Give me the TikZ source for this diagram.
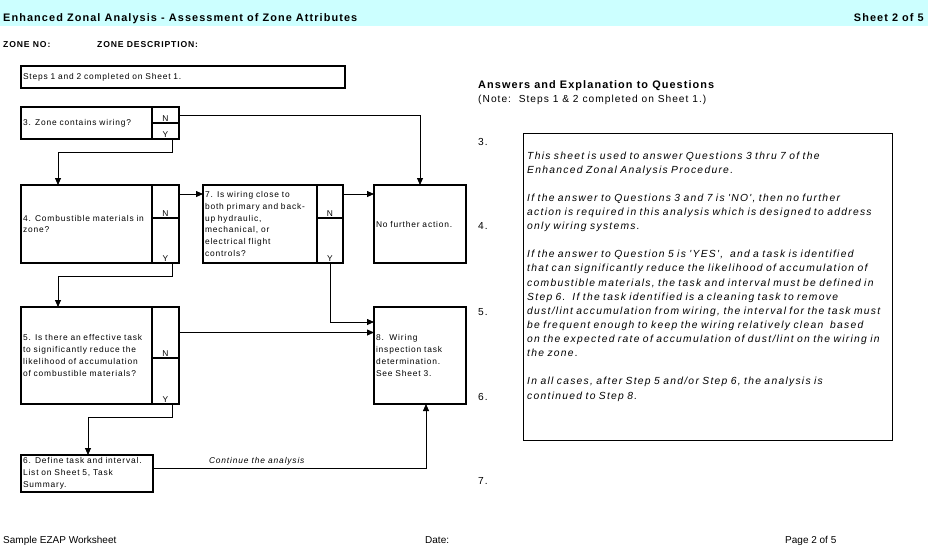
\documentclass[tikz,border=0pt]{standalone}
\usepackage{fontspec}
\setmainfont{Liberation Sans}
\newfontfamily\xlsfont[LetterSpace=10]{Liberation Sans}
\newfontfamily\explfont[LetterSpace=12.5]{Liberation Sans}
\usetikzlibrary{arrows.meta,calc}

\definecolor{bandcyan}{RGB}{204,255,255}

\tikzset{
  box/.style={draw, line width=1.6pt, outer sep=0pt, anchor=north west, inner sep=2pt, align=left,
    font=\xlsfont\fontsize{8.4}{11.8}\selectfont},
  ans/.style={draw, line width=1.6pt, outer sep=0pt, anchor=north west, inner sep=0pt, minimum width=27pt},
  yn/.style={anchor=south, inner sep=1pt, font=\xlsfont\fontsize{8.4}{10}\selectfont},
  conn/.style={->, line width=0.8pt},
  head/.style={inner sep=0pt, anchor=base west, font=\xlsfont\bfseries\fontsize{10.9}{12}\selectfont},
  qnum/.style={inner sep=0pt, anchor=base west, font=\xlsfont\fontsize{10.2}{12}\selectfont},
  foot/.style={inner sep=0pt, anchor=base west, font=\fontsize{10}{12}\selectfont},
}

\begin{document}
\begin{tikzpicture}[x=1pt, y=-1pt, >={Triangle[length=7pt,width=6pt]}]
        \useasboundingbox (0,0) rectangle (928,544);
        % ==== HEADER ====
        \fill[bandcyan] (0,0) rectangle (928,26);
        \node[head] (title) at (3,21) {Enhanced Zonal Analysis - Assessment of Zone Attributes};
        \node[head, anchor=base east] (sheet) at (924,21) {Sheet 2 of 5};
        \node[head, font=\xlsfont\bfseries\fontsize{8.6}{10}\selectfont] (zoneno) at (3,47) {ZONE NO:};
        \node[head, font=\xlsfont\bfseries\fontsize{8.6}{10}\selectfont] (zonedesc) at (97,47) {ZONE DESCRIPTION:};

        % ==== FLOW BOXES ====
        \node[box, minimum width=324pt, minimum height=22pt, text width=320pt] (steps) at (21,66)
            {Steps 1 and 2 completed on Sheet 1.};
        \node[box, minimum height=32pt, text width=127pt] (q3) at (21,107) {3. Zone contains wiring?};
        \node[ans, minimum height=16pt] (q3n) at (q3.north east) {};
        \node[ans, minimum height=16pt] (q3y) at (q3n.south west) {};

        \node[box, minimum height=78pt, text width=127pt] (q4) at (21,185)
            {4. Combustible materials in\\zone?};
        \node[ans, minimum height=33pt] (q4n) at (q4.north east) {};
        \node[ans, minimum height=45pt] (q4y) at (q4n.south west) {};

        \node[box, minimum height=78pt, text width=110pt] (q7) at (203,185)
            {7. Is wiring close to\\both primary and back-\\up hydraulic,\\mechanical, or\\electrical flight\\controls?};
        \node[ans, minimum height=33pt, minimum width=26pt] (q7n) at (q7.north east) {};
        \node[ans, minimum height=45pt, minimum width=26pt] (q7y) at (q7n.south west) {};

        \node[box, minimum height=78pt, text width=88pt] (nf) at (374,185) {No further action.};

        \node[box, minimum height=97pt, text width=127pt] (q5) at (21,307)
            {5. Is there an effective task\\to significantly reduce the\\likelihood of accumulation\\of combustible materials?};
        \node[ans, minimum height=51pt] (q5n) at (q5.north east) {};
        \node[ans, minimum height=46pt] (q5y) at (q5n.south west) {};

        \node[box, minimum height=97pt, text width=88pt] (w8) at (374,307)
            {8.\ \ Wiring\\inspection task\\determination.\\See Sheet 3.};

        \node[box, minimum height=37pt, text width=128pt] (q6) at (21,455)
            {6. Define task and interval.\\List on Sheet 5, Task\\Summary.};

        % ==== N / Y ====
        \foreach \c/\t in {q3n/N, q3y/Y, q4n/N, q4y/Y, q7n/N, q7y/Y, q5n/N, q5y/Y}
            \node[yn] (\c-lbl) at (\c.south) {\t};

        % ==== CONNECTORS ====
        \draw[conn] ($(q3y.south east)+(-7,0)$) |- ($(q4.north west)+(37,-33)$) -- ($(q4.north west)+(37,0)$);
        \draw[conn] (q3n.east) -| (nf.north);
        \draw[conn] ($(q4n.north east)+(0,9)$) -- ($(q7.north west)+(0,9)$);
        \draw[conn] ($(q7n.north east)+(0,9)$) -- ($(nf.north west)+(0,9)$);
        \draw[conn] ($(q4y.south east)+(-7,0)$) |- ($(q5.north west)+(37,-31)$) -- ($(q5.north west)+(37,0)$);
        \draw[conn] (q7y.south) |- ($(w8.north west)+(0,15)$);
        \draw[conn] (q5n.east) -- (q5n.east -| w8.west);
        \draw[conn] ($(q5y.south east)+(-7,0)$) |- ($(q6.north west)+(67,-38)$) -- ($(q6.north west)+(67,0)$);
        \draw[conn] ($(q6.north east)+(0,13)$) -| node[pos=0.19, above, inner sep=2pt,
            font=\xlsfont\itshape\fontsize{8.4}{10}\selectfont] (contlbl) {Continue the analysis}
            ($(w8.south west)+(52,0)$);

        % ==== ANSWERS ====
        \node[head] (anshead) at (478,88) {Answers and Explanation to Questions};
        \node[qnum] (ansnote) at (478,102) {(Note:\ \ Steps 1 \& 2 completed on Sheet 1.)};
        \foreach \n/\y in {3/145, 4/229, 5/315, 6/400, 7/484}
            \node[qnum] (num\n) at (478,\y) {\n.};
        \node[draw, line width=0.9pt, anchor=north west, inner sep=0pt,
            minimum width=369pt, minimum height=307pt] (expl) at (523,133) {};
        \node[qnum, text width=390pt, align=left, font=\explfont\itshape\fontsize{10.3}{14.12}\selectfont]
            (expltext) at (527,159)
            {This sheet is used to answer Questions 3 thru 7 of the\\
             Enhanced Zonal Analysis Procedure.\\[14.12pt]
             If the answer to Questions 3 and 7 is 'NO', then no further\\
             action is required in this analysis which is designed to address\\
             only wiring systems.\\[14.12pt]
             If the answer to Question 5 is 'YES',\ \ and a task is identified\\
             that can significantly reduce the likelihood of accumulation of\\
             combustible materials, the task and interval must be defined in\\
             Step 6.\ \ If the task identified is a cleaning task to remove\\
             dust/lint accumulation from wiring, the interval for the task must\\
             be frequent enough to keep the wiring relatively clean\ \ based\\
             on the expected rate of accumulation of dust/lint on the wiring in\\
             the zone.\\[14.12pt]
             In all cases, after Step 5 and/or Step 6, the analysis is\\
             continued to Step 8.};

        % ==== FOOTER ====
        \node[foot] (ftleft) at (3,543) {Sample EZAP Worksheet};
        \node[foot] (ftdate) at (425,543) {Date:};
        \node[foot] (ftpage) at (785,543) {Page 2 of 5};
\end{tikzpicture}
\end{document}
